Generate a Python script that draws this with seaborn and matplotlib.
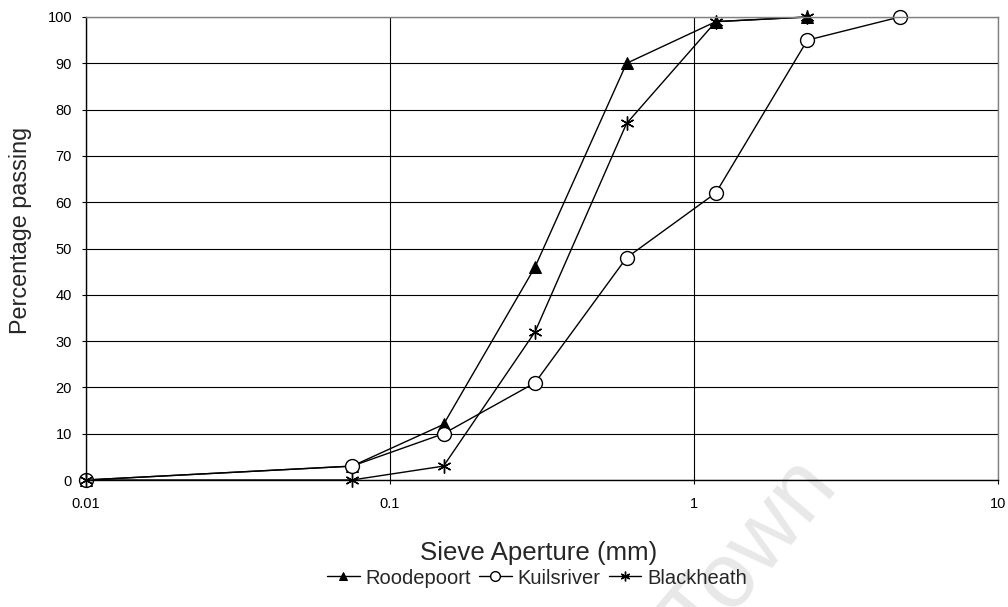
import matplotlib
matplotlib.use("Agg")
import matplotlib.pyplot as plt
import seaborn as sns
import pandas as pd

sizes = [0.01, 0.075, 0.15, 0.3, 0.6, 1.18, 2.36, 4.75]
roodepoort = [0, 3, 12, 46, 90, 99, 100]
kuilsriver = [0, 3, 10, 21, 48, 62, 95, 100]
blackheath = [0, 0, 3, 32, 77, 99, 100]

sns.set_theme(style="white")
plt.rcParams['font.family'] = ['Liberation Sans', 'DejaVu Sans']

W, H = 1008, 607
fig = plt.figure(figsize=(W / 100, H / 100), dpi=100)
ax = fig.add_axes([86 / W, 1 - 480 / H, (998 - 86) / W, (480 - 17) / H])
ax.patch.set_alpha(0)

series = [
    ("Roodepoort", roodepoort, dict(marker="^", markersize=9, markerfacecolor="black", markeredgecolor="black")),
    ("Kuilsriver", kuilsriver, dict(marker="o", markersize=10, markerfacecolor="white", markeredgecolor="black", markeredgewidth=1.0)),
    ("Blackheath", blackheath, dict(marker=(6, 2, 0), markersize=10, markeredgecolor="black", markeredgewidth=1.0)),
]
for name, vals, kw in series:
    df = pd.DataFrame({"x": sizes[:len(vals)], "y": vals})
    sns.lineplot(data=df, x="x", y="y", ax=ax, color="black", linewidth=1.0,
                 label=name, clip_on=False, **kw)

ax.set_xscale("log")
ax.set_xlim(0.01, 10)
ax.set_ylim(0, 100)
ax.set_xticks([0.01, 0.1, 1, 10])
ax.set_xticklabels(["0.01", "0.1", "1", "10"])
ax.set_yticks(range(0, 101, 10))
ax.minorticks_off()
ax.grid(True, which="major", color="black", linewidth=0.8)
for side in ["left", "bottom"]:
    ax.spines[side].set_color("black")
for side in ["top", "right"]:
    ax.spines[side].set_color("#808080")
for s in ax.spines.values():
    s.set_linewidth(1.0)
ax.tick_params(axis="both", labelsize=10.5, length=3, width=0.8, direction="out",
               colors="black", left=True, bottom=True)
ax.tick_params(axis="x", pad=9)
ax.tick_params(axis="y", pad=7)

ax.set_xlabel("Sieve Aperture (mm)", fontsize=18.6)
ax.xaxis.set_label_coords(0.5 - 3 / 912, -(553 - 480) / 463)
ax.xaxis.label.set_va("center")
ax.set_ylabel("Percentage passing", fontsize=16.8)
ax.yaxis.set_label_coords(-(86 - 21) / 912, (480 - 230) / 463)
ax.yaxis.label.set_va("center")

handles, labels = ax.get_legend_handles_labels()
ax.get_legend().remove()
fig.legend(handles, labels, loc="center", bbox_to_anchor=(537 / W, 1 - 578 / H), ncol=3,
           frameon=False, fontsize=14.5, handlelength=1.6, handletextpad=0.3,
           columnspacing=0.4, markerscale=0.7)

fig.text(752 / W, 1 - 553 / H, "Town", fontsize=66, color="#e8e8e8", rotation=50,
         ha="center", va="center", zorder=-1)

fig.savefig("out.png", dpi=100, facecolor="white")
